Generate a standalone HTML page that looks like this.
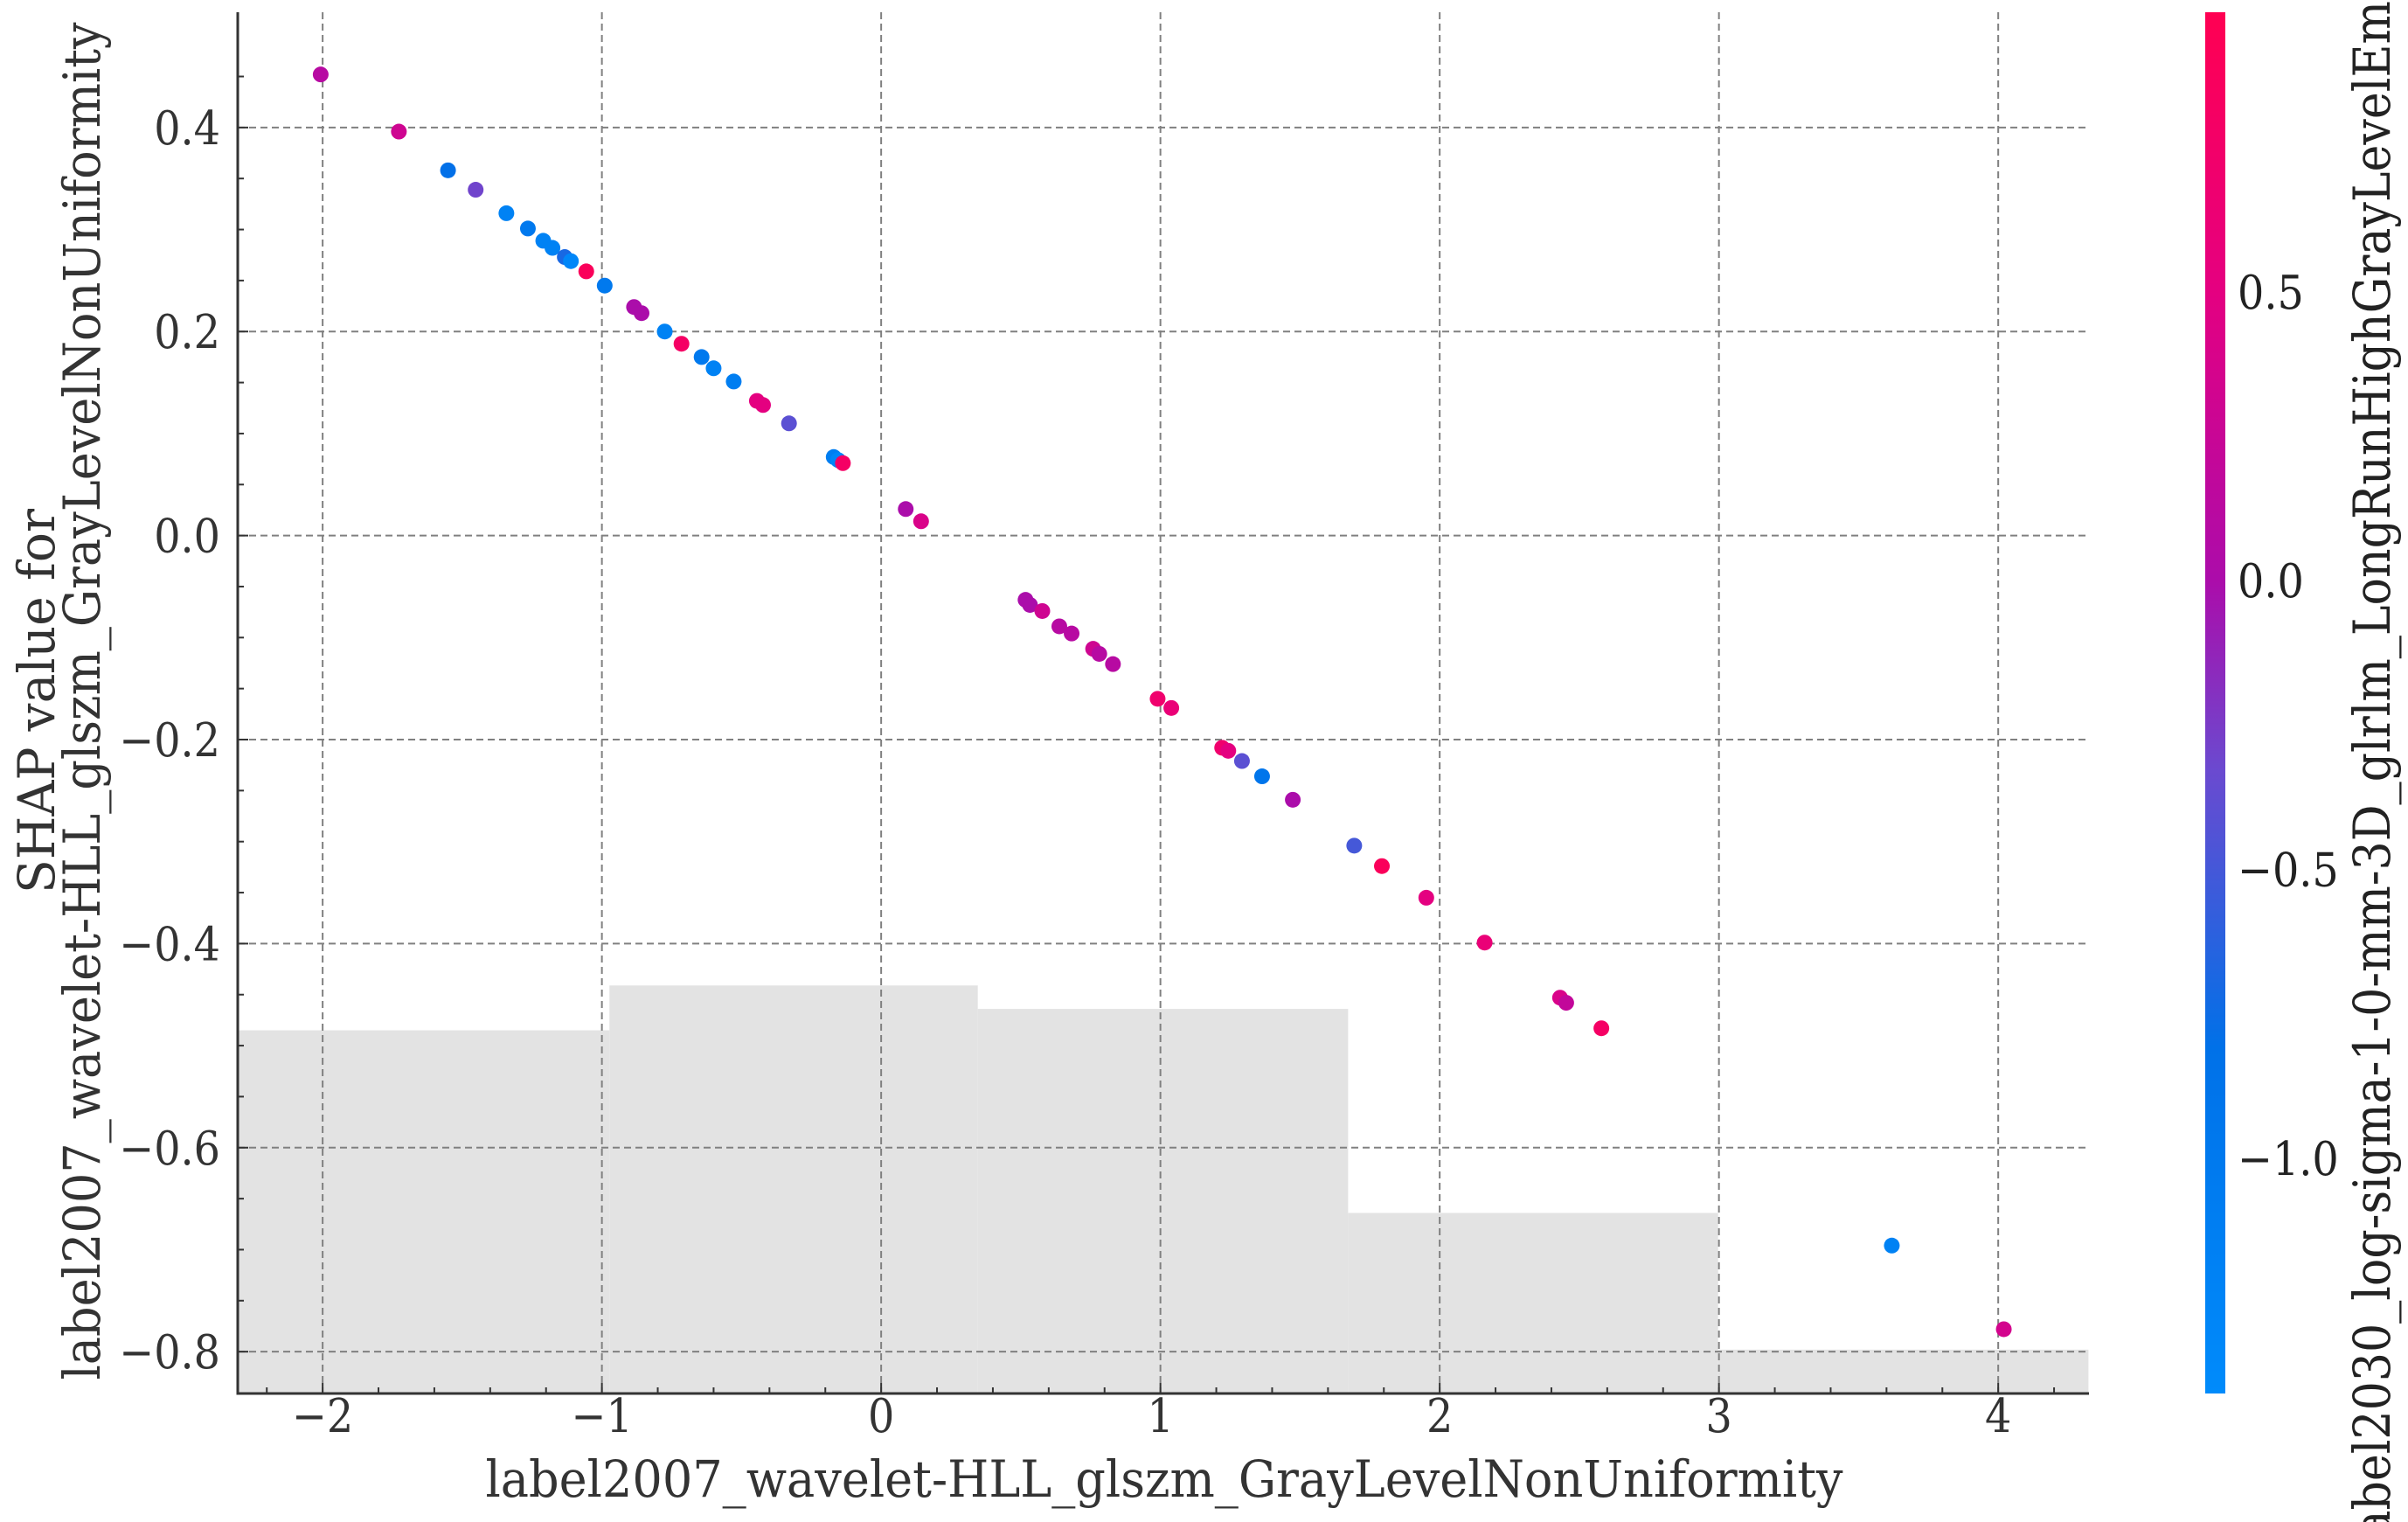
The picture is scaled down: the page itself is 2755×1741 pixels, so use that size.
<!DOCTYPE html>
<html><head><meta charset="utf-8"><style>
html,body{margin:0;padding:0;background:#fff;}
svg{display:block;font-family:"DejaVu Serif Condensed","DejaVu Serif","Liberation Serif",serif;}
</style></head><body>
<svg id="chart" width="2755" height="1741" viewBox="0 0 2755 1741" xmlns="http://www.w3.org/2000/svg">
<defs>
<linearGradient id="cbgrad" x1="0" y1="1" x2="0" y2="0">
<stop offset="0" stop-color="#008bfb"/>
<stop offset="0.25" stop-color="#0071e8"/>
<stop offset="0.45" stop-color="#6a4ad0"/>
<stop offset="0.59" stop-color="#ac0caa"/>
<stop offset="0.8" stop-color="#e50080"/>
<stop offset="1" stop-color="#ff0052"/>
</linearGradient>
</defs>
<g id="hist"></g>
<g id="grid"></g>
<g id="points"></g>
<g id="axes"></g>
<text x="1332" y="1712" font-size="58" fill="#333" text-anchor="middle" textLength="1553" lengthAdjust="spacingAndGlyphs">label2007_wavelet-HLL_glszm_GrayLevelNonUniformity</text>
<text transform="translate(62,802) rotate(-90)" font-size="58" fill="#333" text-anchor="middle" textLength="440" lengthAdjust="spacingAndGlyphs">SHAP value for</text>
<text transform="translate(114,802) rotate(-90)" font-size="58" fill="#333" text-anchor="middle" textLength="1553" lengthAdjust="spacingAndGlyphs">label2007_wavelet-HLL_glszm_GrayLevelNonUniformity</text>
<rect x="2523" y="14" width="23" height="1580" fill="url(#cbgrad)"/>
<g id="cbticks"></g>
<text transform="translate(2734,804) rotate(-90)" font-size="58" fill="#222" text-anchor="middle">label2030_log-sigma-1-0-mm-3D_glrlm_LongRunHighGrayLevelEmphasis</text>
</svg>
<script>
const xs = [-2.007,-1.727,-1.551,-1.452,-1.342,-1.265,-1.21,-1.177,-1.133,-1.111,-1.056,-0.99,-0.885,-0.858,-0.775,-0.715,-0.643,-0.6,-0.528,-0.445,-0.423,-0.33,-0.17,-0.154,-0.137,0.088,0.143,0.517,0.533,0.577,0.638,0.682,0.759,0.781,0.83,0.99,1.039,1.221,1.243,1.292,1.364,1.474,1.694,1.793,1.952,2.161,2.431,2.453,2.579,3.619,4.02];
const ys = [0.452,0.396,0.358,0.339,0.316,0.301,0.289,0.282,0.273,0.269,0.259,0.245,0.224,0.218,0.2,0.188,0.175,0.164,0.151,0.132,0.128,0.11,0.077,0.074,0.071,0.026,0.014,-0.063,-0.068,-0.074,-0.089,-0.096,-0.111,-0.116,-0.126,-0.16,-0.169,-0.208,-0.211,-0.221,-0.236,-0.259,-0.304,-0.324,-0.355,-0.399,-0.453,-0.458,-0.483,-0.696,-0.778];
const cs = [0.1,0.3,-0.8,-0.3,-1.2,-1.0,-1.2,-1.2,-0.7,-1.3,0.9,-1.0,0.0,0.0,-1.2,0.8,-1.0,-1.2,-1.1,0.5,0.5,-0.4,-1.1,-1.3,0.8,0.0,0.4,0.0,0.0,0.3,0.1,0.1,0.3,0.1,0.1,0.7,0.6,0.7,0.5,-0.4,-0.9,0.0,-0.5,0.9,0.5,0.6,0.4,0.2,0.8,-1.2,0.35];
const histEdges = [-2.304,-0.973,0.346,1.672,2.997,4.323];
const histTops = [-0.485,-0.441,-0.464,-0.664,-0.798];
const xTicks = [-2,-1,0,1,2,3,4];
const xTickLabels = ["\u22122","\u22121","0","1","2","3","4"];
const yTicks = [0.4,0.2,0,-0.2,-0.4,-0.6,-0.8];
const yTickLabels = ["0.4","0.2","0.0","\u22120.2","\u22120.4","\u22120.6","\u22120.8"];
const cbTicks = [0.5,0,-0.5,-1.0];
const cbTickLabels = ["0.5","0.0","\u22120.5","\u22121.0"];

const L=272,R=2390,T=14,B=1594;
const XMIN=-2.304,XMAX=4.325,YMIN=-0.841,YMAX=0.513;
const CMIN=-1.407,CMAX=0.984;
const sx=v=>L+(v-XMIN)/(XMAX-XMIN)*(R-L);
const sy=v=>B-(v-YMIN)/(YMAX-YMIN)*(B-T);
const scy=v=>B-(v-CMIN)/(CMAX-CMIN)*(B-T);
const NS="http://www.w3.org/2000/svg";
function mk(tag,attrs,parent){const e=document.createElementNS(NS,tag);for(const k in attrs)e.setAttribute(k,attrs[k]);parent.appendChild(e);return e;}
const stops=[[0,[0,139,251]],[0.25,[0,113,232]],[0.45,[106,74,208]],[0.59,[172,12,170]],[0.8,[229,0,128]],[1,[255,0,82]]];
function cmap(v){let t=(v-CMIN)/(CMAX-CMIN);t=Math.max(0,Math.min(1,t));
for(let i=1;i<stops.length;i++){if(t<=stops[i][0]){const a=stops[i-1],b=stops[i];const f=(t-a[0])/(b[0]-a[0]);
return 'rgb('+a[1].map((c,j)=>Math.round(c+(b[1][j]-c)*f)).join(',')+')';}}return 'rgb(255,0,82)';}

const hist=document.getElementById('hist');
for(let i=0;i<histTops.length;i++){
const x0=Math.max(L,sx(histEdges[i])),x1=Math.min(R,sx(histEdges[i+1]));
const r=mk('rect',{x:x0,y:sy(histTops[i]),width:x1-x0,height:B-sy(histTops[i]),fill:'#e3e3e3'},hist);


}
const grid=document.getElementById('grid');
xTicks.forEach(v=>{const l=mk('line',{x1:sx(v),x2:sx(v),y1:T,y2:B,stroke:'#808080','stroke-width':2,'stroke-dasharray':'8,5'},grid);

});
yTicks.forEach(v=>{const l=mk('line',{x1:L,x2:R,y1:sy(v),y2:sy(v),stroke:'#808080','stroke-width':2,'stroke-dasharray':'8,5'},grid);

});

const pts=document.getElementById('points');
for(let i=0;i<xs.length;i++){
const c=mk('circle',{cx:sx(xs[i]),cy:sy(ys[i]),r:9,fill:cmap(cs[i])},pts);


}

const ax=document.getElementById('axes');
mk('line',{x1:L,x2:L,y1:T,y2:B+1.5,stroke:'#333','stroke-width':3},ax);
mk('line',{x1:L-1.5,x2:R,y1:B,y2:B,stroke:'#333','stroke-width':3},ax);
for(let v=-2.2;v<=4.3;v+=0.2){const x=sx(v);const maj=Math.abs(v-Math.round(v))<1e-6;
mk('line',{x1:x,x2:x,y1:B,y2:B-(maj?12:7),stroke:'#333','stroke-width':2},ax);}
for(let v=-0.8;v<=0.5;v+=0.05){const y=sy(v);const maj=Math.abs(v*5-Math.round(v*5))<1e-6;
mk('line',{x1:L,x2:L+(maj?12:7),y1:y,y2:y,stroke:'#333','stroke-width':2},ax);}
xTicks.forEach((v,i)=>{const t=mk('text',{x:sx(v),y:1638,'font-size':53,fill:'#333','text-anchor':'middle'},ax);t.textContent=xTickLabels[i];

});
yTicks.forEach((v,i)=>{const t=mk('text',{x:252,y:sy(v)+19,'font-size':53,fill:'#333','text-anchor':'end'},ax);t.textContent=yTickLabels[i];

});
const cb=document.getElementById('cbticks');
cbTicks.forEach((v,i)=>{const t=mk('text',{x:2560,y:scy(v)+19,'font-size':53,fill:'#222','text-anchor':'start'},cb);t.textContent=cbTickLabels[i];

});
</script>
</body></html>
